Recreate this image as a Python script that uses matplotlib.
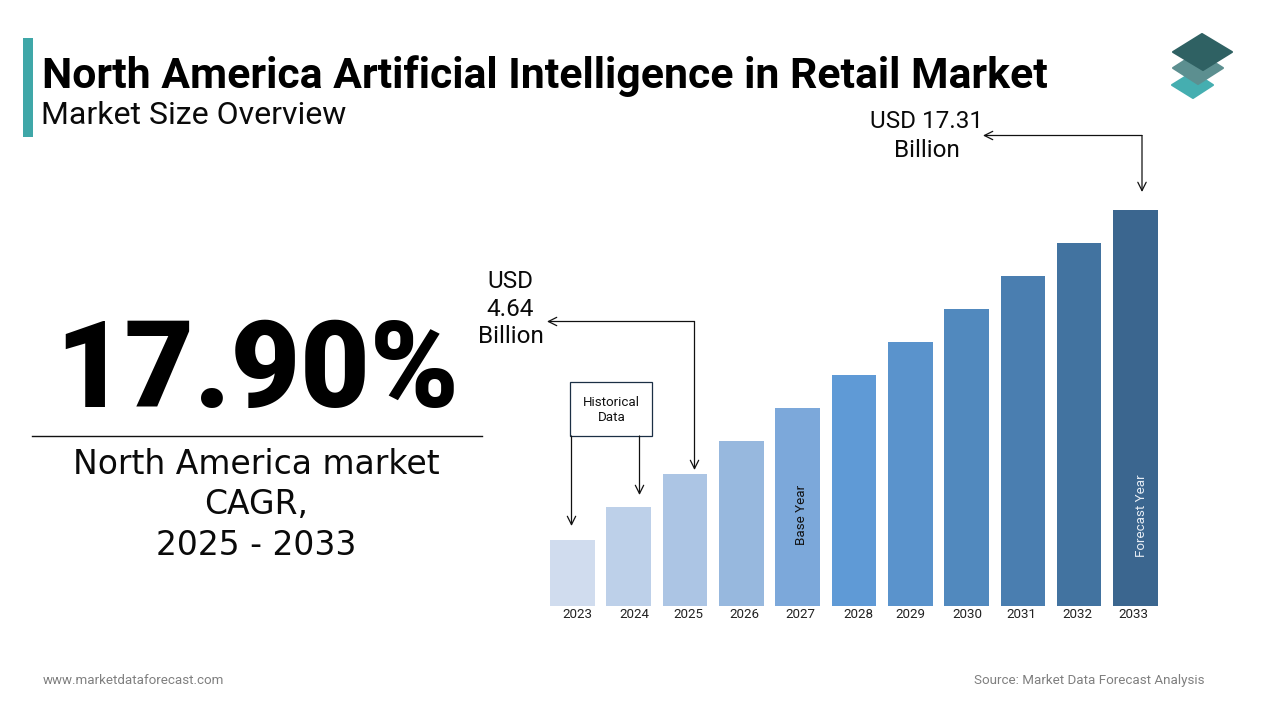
import matplotlib
matplotlib.use('Agg')
import matplotlib.pyplot as plt
from matplotlib.patches import Polygon, Rectangle

years = ['2023', '2024', '2025', '2026', '2027', '2028', '2029', '2030', '2031', '2032', '2033']
# bar heights, the bars are not to scale with the USD labels
heights = [2, 3, 4, 5, 6, 7, 8, 9, 10, 11, 12]
bar_colors = ['#D0DCEE', '#BDD0E9', '#ACC5E4', '#97B8DE', '#7CA8DA', '#5F9AD6',
              '#5A93CC', '#5189BE', '#4A7EB0', '#4273A0', '#3B668F']
label_shift = [5, 6, 3, 3, 3, 4, 0, 1, -2, -2, -2]

plt.rcParams['font.family'] = ['Roboto', 'DejaVu Sans']

fig = plt.figure(figsize=(12.8, 7.2), dpi=100)
fig.patch.set_facecolor('white')

# overlay in pixel coordinates for everything around the bars
pg = fig.add_axes([0, 0, 1, 1])
pg.set_xlim(0, 1280)
pg.set_ylim(720, 0)
pg.axis('off')

pg.add_patch(Rectangle((23, 38), 10, 99, color='#3FA7A8', lw=0))
pg.text(42, 76, 'North America Artificial Intelligence in Retail Market', fontsize=30.76,
        fontweight='bold', color='black', va='center', ha='left')
pg.text(41, 115, 'Market Size Overview', fontsize=23, color='#0A0A0A', va='center', ha='left')

# logo
logo_style = dict(lw=1.5, joinstyle='round')
pg.add_patch(Polygon([(1172, 85), (1193, 72), (1213, 85), (1193, 98)], color='#45AEB0', **logo_style))
pg.add_patch(Polygon([(1173, 68), (1198, 52), (1223, 68), (1198, 84)], color='#5C8F90', **logo_style))
pg.add_patch(Polygon([(1173, 52), (1202, 34), (1232, 52), (1203, 70)], color='#2F6163', **logo_style))

# left block
pg.text(257, 374, '17.90%', fontsize=86.5, fontweight='black', color='black', ha='center', va='center')
pg.plot([32, 482], [436, 436], color='#111111', lw=1)
pg.text(256, 505, 'North America market\nCAGR,\n2025 - 2033', fontsize=23.8, color='#0A0A0A',
        ha='center', va='center', linespacing=1.28, family='DejaVu Sans')

# callouts
pg.text(926.5, 136, 'USD 17.31\nBillion', fontsize=17.5, color='#0A0A0A', ha='center', va='center', linespacing=1.3)
pg.text(510.5, 309, 'USD\n4.64\nBillion', fontsize=17.5, color='#0A0A0A', ha='center', va='center', linespacing=1.27)

arrow = dict(arrowstyle='->', color='#111111', lw=0.9, shrinkA=0, shrinkB=0, mutation_scale=15)
pg.annotate('', xy=(983, 135.5), xytext=(1142, 135.5), arrowprops=arrow)
pg.annotate('', xy=(1142, 192), xytext=(1142, 135.5), arrowprops=arrow)
pg.annotate('', xy=(547, 321.5), xytext=(694.5, 321.5), arrowprops=arrow)
pg.annotate('', xy=(694.5, 470), xytext=(694.5, 321.5), arrowprops=arrow)

# historical data box
pg.add_patch(Rectangle((570, 382), 82, 54, fc='white', ec='#1B2F45', lw=0.9))
pg.text(611.5, 410, 'Historical\nData', fontsize=9.6, color='#111111', ha='center', va='center', linespacing=1.25)
pg.annotate('', xy=(571.5, 526), xytext=(571.5, 436), arrowprops=arrow)
pg.annotate('', xy=(639.5, 495), xytext=(639.5, 436), arrowprops=arrow)

# bars, one height unit is 33 px, baseline at y=606
ax = fig.add_axes([544.2 / 1280, 114 / 720, 619.5 / 1280, 396 / 720])
ax.set_xlim(-0.5, 10.5)
ax.set_ylim(0, 12)
ax.axis('off')
ax.patch.set_alpha(0)
ax.bar(range(len(years)), heights, width=0.79, color=bar_colors, lw=0)

for i, year in enumerate(years):
    ax.annotate(year, xy=(i, 0), xytext=(label_shift[i], -9), textcoords='offset pixels', fontsize=9.6,
                color='#222222', ha='center', va='center', annotation_clip=False)

ax.text(4.07, 2.75, 'Base Year', rotation=90, fontsize=9.6, color='#111111', ha='center', va='center')
ax.text(10.11, 2.75, 'Forecast Year', rotation=90, fontsize=9.6, color='#E8EEF5', ha='center', va='center')

# footer
pg.text(43, 680, 'www.marketdataforecast.com', fontsize=9.6, color='#7F7F7F', ha='left', va='center')
pg.text(1204, 680.5, 'Source: Market Data Forecast Analysis', fontsize=9.6, color='#7F7F7F', ha='right', va='center')

fig.savefig('out.png', dpi=100)
